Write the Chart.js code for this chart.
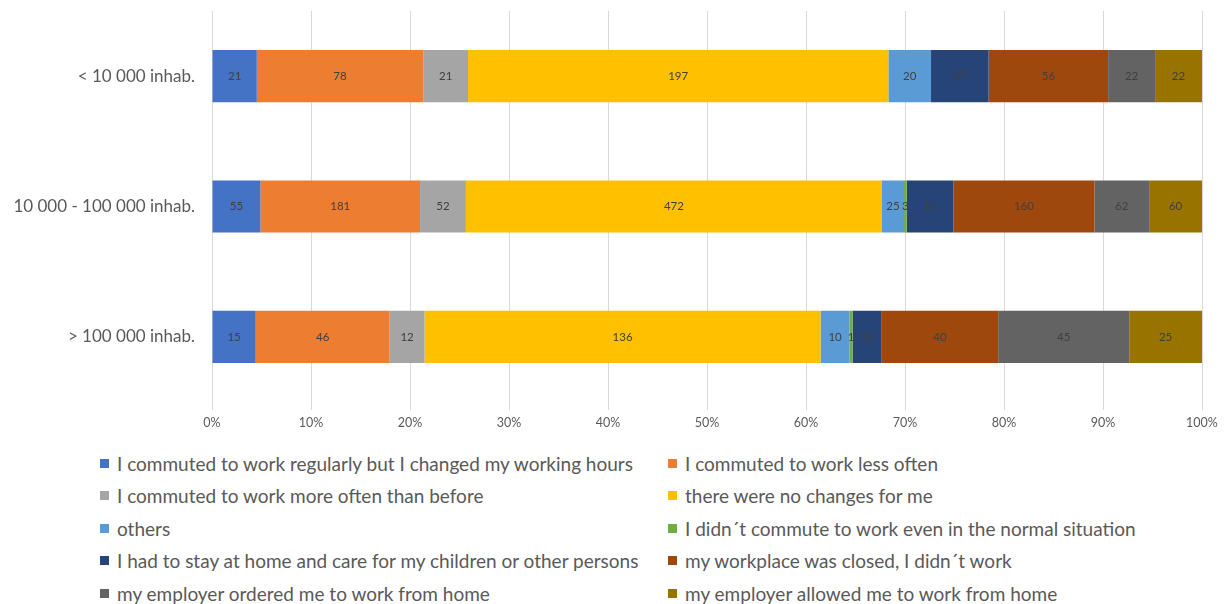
<!DOCTYPE html>
<html>
<head>
<meta charset="utf-8">
<script src="https://cdn.jsdelivr.net/npm/chart.js@4"></script>
<style>
  body { margin: 0; background: #fff; font-family: Lato, sans-serif; }
  #wrap { position: absolute; left: 0; top: 0; width: 1224px; height: 440px; }
  #legend { position: absolute; left: 100px; top: 452px; width: 1124px;
            display: grid; grid-template-columns: 568px 556px; row-gap: 10.5px; }
  .item { display: flex; align-items: center; height: 22px; color: #595959; font-size: 19px; white-space: nowrap; }
  .box { width: 9px; height: 9px; margin-right: 8px; flex: none; }
</style>
</head>
<body>
<div id="wrap"><canvas id="chart"></canvas></div>
<div id="legend"></div>
<script>
const categories = ['< 10 000 inhab.', '10 000 - 100 000 inhab.', '> 100 000 inhab.'];

const seriesNames = [
    'I commuted to work regularly but I changed my working hours',
    'I commuted to work less often',
    'I commuted to work more often than before',
    'there were no changes for me',
    'others',
    'I didn´t commute to work even in the normal situation',
    'I had to stay at home and care for my children or other persons',
    'my workplace was closed, I didn´t work',
    'my employer ordered me to work from home',
    'my employer allowed me to work from home'
];

const seriesColors = ['#4472C4', '#ED7D31', '#A5A5A5', '#FFC000', '#5B9BD5',
                      '#70AD47', '#264478', '#9E480E', '#636363', '#997300'];

// counts per series, one value per category (top to bottom)
const regularChangedHours = [21, 55, 15];
const lessOften = [78, 181, 46];
const moreOften = [21, 52, 12];
const noChanges = [197, 472, 136];
const others = [20, 25, 10];
const neverCommuted = [0, 3, 1];
const careAtHome = [27, 53, 10];
const workplaceClosed = [56, 160, 40];
const orderedHome = [22, 62, 45];
const allowedHome = [22, 60, 25];

const counts = [regularChangedHours, lessOften, moreOften, noChanges, others,
                neverCommuted, careAtHome, workplaceClosed, orderedHome, allowedHome];

const xTicks = [0, 10, 20, 30, 40, 50, 60, 70, 80, 90, 100];

// totals per category so each bar fills 100%
const totals = categories.map((c, i) => counts.reduce((s, arr) => s + arr[i], 0));

const datasets = counts.map((arr, k) => ({
    label: seriesNames[k],
    data: arr.map((v, i) => v / totals[i] * 100),
    counts: arr,
    backgroundColor: seriesColors[k],
    borderWidth: 0,
    barPercentage: 0.4,
    categoryPercentage: 1
}));

// draws the raw counts in the middle of each segment
const countLabels = {
    id: 'countLabels',
    afterDatasetsDraw(chart) {
        const ctx = chart.ctx;
        ctx.save();
        ctx.font = '11.5px Lato, sans-serif';
        ctx.fillStyle = '#404040';
        ctx.textAlign = 'center';
        ctx.textBaseline = 'middle';
        chart.data.datasets.forEach((ds, k) => {
            chart.getDatasetMeta(k).data.forEach((bar, i) => {
                const v = ds.counts[i];
                if (!v) return;
                const cx = (bar.x + bar.base) / 2;
                ctx.fillText(String(v), cx, bar.y);
            });
        });
        ctx.restore();
    }
};

new Chart(document.getElementById('chart'), {
    type: 'bar',
    data: { labels: categories, datasets: datasets },
    options: {
        indexAxis: 'y',
        responsive: true,
        maintainAspectRatio: false,
        animation: false,
        layout: { padding: { left: 0, right: 22, top: 11, bottom: 0 } },
        plugins: {
            legend: { display: false },
            tooltip: { enabled: false }
        },
        scales: {
            x: {
                stacked: true,
                min: 0,
                max: 100,
                afterBuildTicks: (axis) => { axis.ticks = xTicks.map(v => ({ value: v })); },
                afterFit: (axis) => { axis.height = 38; },
                border: { display: false },
                grid: { color: '#d9d9d9', tickLength: 8 },
                ticks: {
                    padding: 5,
                    color: '#595959',
                    font: { family: 'Lato', size: 12.5 },
                    callback: (v) => v + '%'
                }
            },
            y: {
                stacked: true,
                afterFit: (axis) => {
                    axis.width = 212;
                    axis.paddingTop = 0;
                    axis.paddingBottom = 0;
                },
                border: { display: false },
                grid: { display: false, drawTicks: false },
                ticks: {
                    padding: 17,
                    color: '#595959',
                    font: { family: 'Lato', size: 17 }
                }
            }
        }
    },
    plugins: [countLabels]
});

// two-column legend built from the same arrays
const legend = document.getElementById('legend');
seriesNames.forEach((name, k) => {
    const item = document.createElement('div');
    item.className = 'item';
    const box = document.createElement('span');
    box.className = 'box';
    box.style.background = seriesColors[k];
    item.appendChild(box);
    item.appendChild(document.createTextNode(name));
    legend.appendChild(item);
});
</script>
</body>
</html>
